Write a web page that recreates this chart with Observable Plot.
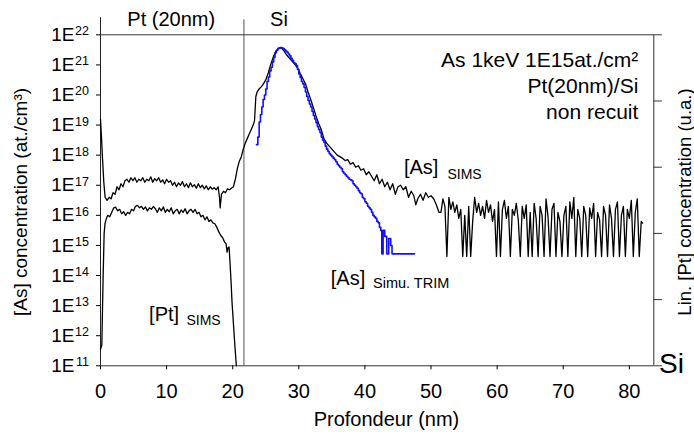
<!DOCTYPE html>
<html>
<head>
<meta charset="utf-8">
<script src="https://cdn.jsdelivr.net/npm/d3@7"></script>
<script src="https://cdn.jsdelivr.net/npm/@observablehq/plot@0.6"></script>
<style>
  html, body { margin: 0; padding: 0; background: #fff; }
</style>
</head>
<body>
<div id="chart"></div>
<script>
// ---- Data (depth in nm, log10 of concentration) ----
const asSims = [
  [0.0,19.2],[0.15,18.6],[0.3,17.9],[0.5,17.1],[0.7,16.6],[1.0,16.5],[1.3,16.6],[1.6,16.55],[1.9,16.75],[2.2,16.7],
  [2.5,16.95],[2.8,16.85],[3.1,17.05],[3.4,16.95],[3.7,17.15],[4.0,17.2],[4.3,17.1],[4.6,17.25],[4.9,17.15],[5.2,17.25],
  [5.5,17.1],[5.8,17.2],[6.1,17.15],[6.4,17.25],[6.7,17.1],[7.0,17.2],[7.3,17.15],[7.6,17.28],[7.9,17.1],[8.2,17.22],
  [8.5,17.15],[8.8,17.25],[9.1,17.1],[9.4,17.18],[9.7,17.05],[10.0,17.2],[10.3,17.1],[10.6,17.15],[10.9,17.0],[11.2,17.1],
  [11.5,16.95],[11.8,17.08],[12.1,17.0],[12.4,17.12],[12.7,16.95],[13.0,17.05],[13.3,16.92],[13.6,17.08],[13.9,16.95],[14.2,17.02],
  [14.5,16.9],[14.8,17.05],[15.1,16.92],[15.4,17.0],[15.7,16.88],[16.0,16.98],[16.3,16.85],[16.6,16.95],[16.9,16.87],[17.2,16.92],
  [17.5,16.85],[17.8,16.95],[18.0,16.6],[18.1,16.25],[18.3,16.7],[18.6,16.8],[18.9,16.75],[19.2,16.88],[19.5,16.85],[19.8,16.9],
  [20.1,16.95],[20.4,17.2],[20.7,17.55],[21.0,17.8],[21.3,17.95],[21.6,18.2],[21.9,18.4],[22.2,18.55],[22.5,18.7],[22.8,18.85],
  [23.1,19.0],[23.3,19.15],[23.5,19.95],[23.7,20.1],[24.0,20.2],[24.3,20.27],[24.6,20.35],[25.0,20.5],[25.4,20.75],[25.8,21.05],
  [26.2,21.3],[26.6,21.48],[27.0,21.56],[27.4,21.56],[27.8,21.45],[28.2,21.32],[28.6,21.22],[29.0,21.12],[29.4,21.02],[29.8,20.9],
  [30.2,20.72],[30.6,20.55],[31.0,20.38],[31.4,20.1],[31.8,19.85],[32.2,19.58],[32.6,19.3],[33.0,19.05],[33.4,18.85],[33.8,18.55],
  [34.2,18.4],[34.6,18.3],[35.0,18.2],[35.4,18.1],[35.8,18.0],[36.2,17.95],[36.6,17.9],[37.0,17.82],[37.4,17.85],[37.8,17.7],
  [38.2,17.75],[38.6,17.6],[39.0,17.65],[39.4,17.5],[39.8,17.55],[40.2,17.35],[40.6,17.45],[41.0,17.3],[41.4,17.15],[41.8,17.35],
  [42.2,17.05],[42.6,17.2],[43.0,16.95],[43.4,17.1],[43.8,16.85],[44.2,17.05],[44.6,16.7],[45.0,16.95],[45.4,17.0],[45.8,16.85],
  [46.2,16.95],[46.6,16.6],[47.0,16.8],[47.4,16.65],[47.7,16.35],[48.0,16.55],[48.4,16.7],[48.8,16.5],[49.2,16.75],[49.6,16.6],
  [50.0,16.65],[50.4,16.55],[50.8,16.35],[51.2,16.1],[51.5,16.1],[51.8,16.55],[52.1,16.3],[52.4,14.63],[52.7,16.6],[53.0,16.2],
  [53.3,16.45],[53.6,16.1],[53.9,16.35],[54.2,15.9],[54.5,16.2],[54.8,14.63],[55.1,16.0],[55.4,14.63],[55.7,16.3],[56.0,14.63],
  [56.3,15.8],[56.6,16.6],[56.9,16.1],[57.2,16.4],[57.5,16.0],[57.8,16.3],[58.1,15.9],[58.4,16.5],[58.7,16.1],[59.0,16.35],
  [59.3,15.8],[59.6,16.2],[59.9,14.63],[60.2,16.45],[60.5,14.63],[60.8,16.2],[61.1,16.5],[61.4,15.9],[61.7,16.3],[62.0,14.63],
  [62.3,16.2],[62.6,16.0],[62.9,16.4],[63.2,15.85],[63.5,14.63],[63.8,16.3],[64.1,15.9],[64.4,16.35],[64.7,14.63],[65.0,16.1],
  [65.3,14.63],[65.6,16.4],[65.9,15.9],[66.2,14.63],[66.5,16.3],[66.8,16.0],[67.1,14.63],[67.4,16.55],[67.7,15.95],[68.0,14.63],
  [68.3,16.2],[68.6,16.4],[68.9,14.63],[69.2,16.1],[69.5,15.8],[69.8,14.63],[70.1,16.0],[70.4,16.3],[70.7,14.63],[71.0,16.45],
  [71.3,15.9],[71.6,16.6],[71.9,14.63],[72.2,16.2],[72.5,15.9],[72.8,14.63],[73.1,16.3],[73.4,16.0],[73.7,14.63],[74.0,16.25],
  [74.3,15.9],[74.6,16.4],[74.9,14.63],[75.2,16.1],[75.5,15.85],[75.8,14.63],[76.1,16.3],[76.4,16.0],[76.7,14.63],[77.0,16.35],
  [77.3,15.9],[77.6,14.63],[77.9,16.2],[78.2,16.45],[78.5,14.63],[78.8,16.0],[79.1,16.3],[79.4,14.63],[79.7,16.2],[80.0,15.9],
  [80.3,16.5],[80.6,14.63],[80.9,16.1],[81.2,16.55],[81.5,14.63],[81.8,15.8],[82.0,15.74]
];

const ptSims = [
  [0.0,11.55],[0.2,11.7],[0.4,14.0],[0.55,15.4],[0.7,15.75],[0.9,15.9],[1.1,16.0],[1.4,15.95],[1.7,16.1],[2.0,16.25],
  [2.3,16.27],[2.6,16.15],[2.9,16.2],[3.2,16.05],[3.5,16.12],[3.8,16.0],[4.1,16.1],[4.4,16.05],[4.7,16.2],[5.0,16.15],
  [5.3,16.3],[5.6,16.33],[5.9,16.25],[6.2,16.3],[6.5,16.2],[6.8,16.28],[7.1,16.15],[7.4,16.25],[7.7,16.2],[8.0,16.3],
  [8.3,16.22],[8.6,16.1],[8.9,16.25],[9.2,16.15],[9.5,16.28],[9.8,16.1],[10.1,16.2],[10.4,16.12],[10.7,16.25],[11.0,16.05],
  [11.3,16.15],[11.6,16.2],[11.9,16.05],[12.2,16.18],[12.5,16.1],[12.8,16.22],[13.1,16.05],[13.4,16.15],[13.7,16.2],[14.0,16.1],
  [14.3,16.2],[14.6,16.05],[14.9,16.1],[15.2,15.95],[15.5,16.0],[15.8,15.85],[16.1,15.95],[16.4,15.8],[16.7,15.85],[17.0,15.75],
  [17.3,15.72],[17.6,15.6],[17.9,15.45],[18.2,15.33],[18.5,15.25],[18.8,15.1],[19.0,15.05],[19.15,14.78],[19.3,14.92],[19.45,14.95],
  [19.6,14.4],[19.75,13.8],[19.9,13.1],[20.05,12.6],[20.2,12.1],[20.35,11.6],[20.55,11.0]
];

const asTrim = [
  [23.6,18.35],[23.8,18.6],[24.0,19.1],[24.2,19.35],[24.4,19.6],[24.6,19.85],[24.8,20.0],[25.0,20.2],[25.2,20.45],[25.4,20.6],
  [25.6,20.8],[25.8,20.92],[26.0,21.1],[26.2,21.25],[26.4,21.4],[26.6,21.48],[26.8,21.54],[27.0,21.57],[27.2,21.58],[27.4,21.57],
  [27.6,21.54],[27.8,21.5],[28.0,21.46],[28.2,21.42],[28.4,21.36],[28.6,21.3],[28.8,21.22],[29.0,21.15],[29.2,21.08],[29.4,21.04],
  [29.6,20.98],[29.8,20.85],[30.0,20.7],[30.2,20.58],[30.4,20.45],[30.6,20.37],[30.8,20.25],[31.0,20.1],[31.2,19.95],[31.4,19.82],
  [31.6,19.7],[31.8,19.6],[32.0,19.45],[32.2,19.32],[32.4,19.2],[32.6,19.08],[32.8,18.95],[33.0,18.85],[33.2,18.75],[33.4,18.6],
  [33.6,18.5],[33.8,18.42],[34.0,18.3],[34.2,18.2],[34.4,18.12],[34.6,18.05],[34.8,18.0],[35.0,17.95],[35.2,17.9],[35.4,17.85],
  [35.6,17.78],[35.8,17.7],[36.0,17.65],[36.2,17.6],[36.4,17.55],[36.6,17.45],[36.8,17.4],[37.0,17.35],[37.2,17.3],[37.4,17.25],
  [37.6,17.2],[37.8,17.18],[38.0,17.15],[38.2,17.05],[38.4,17.0],[38.6,16.95],[38.8,16.9],[39.0,16.82],[39.2,16.75],[39.4,16.72],
  [39.6,16.6],[39.8,16.55],[40.0,16.45],[40.2,16.4],[40.4,16.3],[40.6,16.25],[40.8,16.2],[41.0,16.1],[41.2,16.0],[41.4,15.95],
  [41.6,15.9],[41.8,15.8],[42.0,15.75],[42.2,15.6],[42.4,15.5],[42.55,14.72],[42.75,15.5],[43.0,15.3],[43.3,14.72],[43.6,15.23],
  [43.9,15.0],[44.1,14.72],[47.5,14.72]
];

const xTicks = [0, 10, 20, 30, 40, 50, 60, 70, 80];
const yExponents = [11, 12, 13, 14, 15, 16, 17, 18, 19, 20, 21, 22];
const rightAxisFractions = [0, 0.2, 0.4, 0.6, 0.8, 1];   // linear [Pt] axis (u.a.)
const layerLabels = ["Pt (20nm)", "Si"];
const layerCenters = [10.7, 27.0];
const interfaceDepth = 21.7;
const xMax = 83.7;
const annotationLines = ["As 1keV 1E15at./cm²", "Pt(20nm)/Si", "non recuit"];

const yTicks = yExponents.map(e => 10 ** e);
const rightTicks = rightAxisFractions.map(f => 10 ** (11 + 11 * f));
const P = d => 10 ** d;
const font = "'Liberation Sans', Arial, Helvetica, sans-serif";

const chart = Plot.plot({
  width: 694,
  height: 432,
  marginLeft: 100,
  marginRight: 40.7,
  marginTop: 34.3,
  marginBottom: 66.7,
  x: {domain: [0, xMax]},
  y: {type: "log", domain: [1e11, 1e22]},
  style: {fontFamily: font, fontSize: "19px", background: "#fff", color: "#000", overflow: "visible"},
  marks: [
    // frame & guides
    Plot.ruleY([1e22], {x1: 0, x2: xMax, stroke: "#333"}),
    Plot.ruleY([1e11], {x1: 0, x2: xMax, stroke: "#333"}),
    Plot.ruleX([0], {y1: 1e11, y2: P(22.57), stroke: "#222"}),
    Plot.ruleX([xMax], {y1: 1e11, y2: 1e22, stroke: "#333"}),
    Plot.ruleX([interfaceDepth], {y1: 1e11, y2: P(22.5), stroke: "#555"}),
    Plot.ruleY(rightTicks, {x1: xMax, x2: 85.0, stroke: "#333"}),
    Plot.axisX({ticks: xTicks, tickSize: 4, tickPadding: 13.8, fontSize: 20, label: null, tickFormat: d => String(d)}),
    Plot.axisY({ticks: yTicks, tickSize: 4, tickPadding: 22, fontSize: 19, label: null, tickFormat: () => "1E"}),
    Plot.text(yExponents, {y: P, text: d => String(d), frameAnchor: "left", dx: -11.5, dy: -3.5, textAnchor: "end", fontSize: 12.5}),
    // curves
    Plot.line(ptSims, {x: d => d[0], y: d => P(d[1]), stroke: "#000", strokeWidth: 1.3}),
    Plot.line(asSims, {x: d => d[0], y: d => P(d[1]), stroke: "#000", strokeWidth: 1.3}),
    Plot.line(asTrim, {x: d => d[0], y: d => P(d[1]), stroke: "#1010ff", strokeWidth: 1.6, curve: "step-after"}),
    // labels
    Plot.text(layerLabels, {x: (d, i) => layerCenters[i], y: P(22.489), text: d => d, fontSize: 20}),
    Plot.text([annotationLines.join("\n")], {x: 81.36, y: P(21.531), text: d => d, textAnchor: "end", lineAnchor: "top", lineHeight: 1.238, fontSize: 21}),
    Plot.text(["[As]"], {x: 45.9, y: P(17.593), text: d => d, textAnchor: "start", fontSize: 20}),
    Plot.text(["SIMS"], {x: 52.48, y: P(17.364), text: d => d, textAnchor: "start", fontSize: 14}),
    Plot.text(["[As]"], {x: 34.83, y: P(13.914), text: d => d, textAnchor: "start", fontSize: 20}),
    Plot.text(["Simu. TRIM"], {x: 41.22, y: P(13.731), text: d => d, textAnchor: "start", fontSize: 14.5}),
    Plot.text(["[Pt]"], {x: 7.35, y: P(12.718), text: d => d, textAnchor: "start", fontSize: 20}),
    Plot.text(["SIMS"], {x: 13.0, y: P(12.489), text: d => d, textAnchor: "start", fontSize: 14}),
    Plot.text(["Si"], {x: 84.48, y: P(11.053), text: d => d, textAnchor: "start", fontSize: 28}),
    // axis titles
    Plot.text(["Profondeur (nm)"], {frameAnchor: "bottom", textAnchor: "middle", lineAnchor: "middle", dx: 9.3, dy: 53.3, text: d => d, fontSize: 20}),
    Plot.text(["[As] concentration (at./cm³)"], {frameAnchor: "left", textAnchor: "middle", lineAnchor: "middle", rotate: -90, dx: -79.2, dy: 1.7, text: d => d, fontSize: 19}),
    Plot.text(["Lin. [Pt] concentration (u.a.)"], {frameAnchor: "right", textAnchor: "middle", lineAnchor: "middle", rotate: -90, dx: 31.5, dy: 1.7, text: d => d, fontSize: 18.5})
  ]
});
document.getElementById("chart").appendChild(chart);
</script>
</body>
</html>
